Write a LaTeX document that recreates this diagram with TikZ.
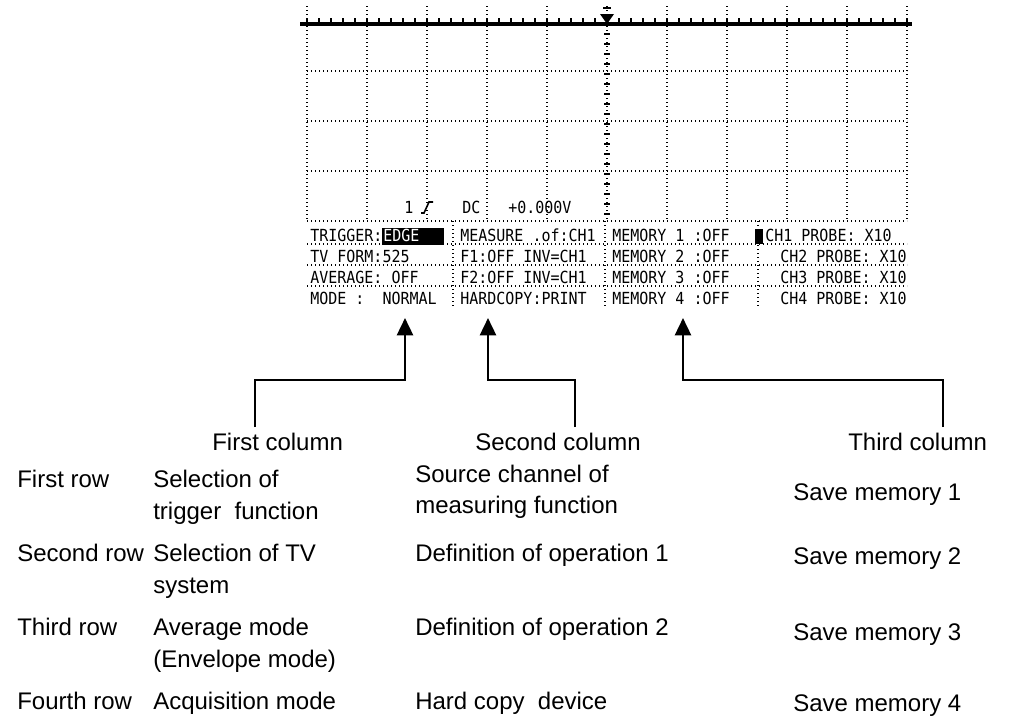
\documentclass[tikz,border=0pt]{standalone}
\usepackage{fontspec}
\setmainfont{Liberation Sans}
\newfontfamily\scopefont[FakeStretch=0.9]{DejaVu Sans Mono}
\usetikzlibrary{arrows.meta,positioning}

\begin{document}
\begin{tikzpicture}[x=0.75pt,y=-0.75pt,
	raster/.style={line width=0.9pt, dash pattern=on 0.9pt off 2.1pt},
	scrtxt/.style={font=\scopefont\fontsize{12.5}{13}\selectfont, inner sep=0pt, anchor=base west},
	scrtxtr/.style={scrtxt, anchor=base east},
	lbltxt/.style={font=\fontsize{18}{22}\selectfont, inner sep=0pt, anchor=base west},
	pointer/.style={line width=1.9pt, -{Triangle[length=13pt,width=12pt]}}]
	\useasboundingbox (0,0) rectangle (1029,726);

	\foreach \x in {307,367,...,907} \draw[raster] (\x,6) -- (\x,221);
	\foreach \y in {71,121,171,221} \draw[raster] (307,\y) -- (907,\y);
	\foreach \y in {34,44,...,214} \draw[line width=1.1pt] (604,\y) -- (610,\y);
	\draw[line width=2.6pt] (300,24) -- (912,24);
	\foreach \x in {307,319,...,907} \draw[line width=1pt] (\x,24) -- (\x,18);
	\draw[line width=1.1pt] (603,8) -- (611,8);
	\fill (600,14) -- (614,14) -- (607,24) -- cycle;

	\node[scrtxt] (chan) at (404,213) {1};
	\draw[line width=1.2pt] (421,213) -- (424,213) -- (429,202) -- (433,202);
	\node[scrtxt] (coupl) at (462,213) {DC};
	\node[scrtxt] (level) at (508,213) {+0.000V};

	\foreach \y in {244,265,286} \draw[raster] (307,\y) -- (907,\y);
	\foreach \x in {453,605,758} \draw[raster] (\x,221) -- (\x,308);

	\node[scrtxt] (m_1_1) at (310,241) {TRIGGER:};
	\fill (382,228) rectangle (444,245);
	\node[scrtxt, text=white] (edge) at (383,241) {EDGE};
	\node[scrtxt] (m_2_1) at (310,262) {TV FORM:525};
	\node[scrtxt] (m_3_1) at (310,283) {AVERAGE:~OFF};
	\node[scrtxt] (m_4_1) at (310,304) {MODE~:~~NORMAL};

	\node[scrtxt] (m_1_2) at (460,241) {MEASURE~.of:CH1};
	\node[scrtxt] (m_2_2) at (460,262) {F1:OFF~INV=CH1};
	\node[scrtxt] (m_3_2) at (460,283) {F2:OFF~INV=CH1};
	\node[scrtxt] (m_4_2) at (460,304) {HARDCOPY:PRINT};

	\node[scrtxt] (m_1_3) at (612,241) {MEMORY~1~:OFF};
	\node[scrtxt] (m_2_3) at (612,262) {MEMORY~2~:OFF};
	\node[scrtxt] (m_3_3) at (612,283) {MEMORY~3~:OFF};
	\node[scrtxt] (m_4_3) at (612,304) {MEMORY~4~:OFF};

	\fill (755,229) rectangle (763,244);
	\node[scrtxt] (m_1_4) at (765,241) {CH1~PROBE:~X10};
	\node[scrtxtr] (m_2_4) at (907,262) {CH2~PROBE:~X10};
	\node[scrtxtr] (m_3_4) at (907,283) {CH3~PROBE:~X10};
	\node[scrtxtr] (m_4_4) at (907,304) {CH4~PROBE:~X10};

	\node[lbltxt] (col_1) at (212,450) {First column};
	\node[lbltxt] (col_2) at (475,450) {Second column};
	\node[lbltxt] (col_3) at (848,450) {Third column};

	\coordinate (tip_1) at (405,318);
	\coordinate (bend_1) at (405,380);
	\coordinate (foot_1) at (255,427);
	\coordinate (tip_2) at (488,318);
	\coordinate (bend_2) at (488,380);
	\coordinate (foot_2) at (575,427);
	\coordinate (tip_3) at (683,318);
	\coordinate (bend_3) at (683,380);
	\coordinate (foot_3) at (943,427);
	\draw[pointer] (foot_1) |- (bend_1) -- (tip_1);
	\draw[pointer] (foot_2) |- (bend_2) -- (tip_2);
	\draw[pointer] (foot_3) |- (bend_3) -- (tip_3);

	\node[lbltxt] (row_1) at (17,487) {First row};
	\node[lbltxt] (row_2) at (17,561) {Second row};
	\node[lbltxt] (row_3) at (17,635) {Third row};
	\node[lbltxt] (row_4) at (17,709) {Fourth row};

	\node[lbltxt] (d_1_1) at (153,487) {Selection of};
	\node[lbltxt] (d_1_1b) at (153,519) {trigger\ \ function};
	\node[lbltxt] (d_1_2) at (153,561) {Selection of TV};
	\node[lbltxt] (d_1_2b) at (153,593) {system};
	\node[lbltxt] (d_1_3) at (153,635) {Average mode};
	\node[lbltxt] (d_1_3b) at (153,667) {(Envelope mode)};
	\node[lbltxt] (d_1_4) at (153,709) {Acquisition mode};

	\node[lbltxt] (d_2_1) at (415,482) {Source channel of};
	\node[lbltxt] (d_2_1b) at (415,513) {measuring function};
	\node[lbltxt] (d_2_2) at (415,561) {Definition of operation 1};
	\node[lbltxt] (d_2_3) at (415,635) {Definition of operation 2};
	\node[lbltxt] (d_2_4) at (415,709) {Hard copy\ \ device};

	\node[lbltxt] (d_3_1) at (793,500) {Save memory 1};
	\node[lbltxt] (d_3_2) at (793,564) {Save memory 2};
	\node[lbltxt] (d_3_3) at (793,640) {Save memory 3};
	\node[lbltxt] (d_3_4) at (793,711) {Save memory 4};
\end{tikzpicture}
\end{document}
